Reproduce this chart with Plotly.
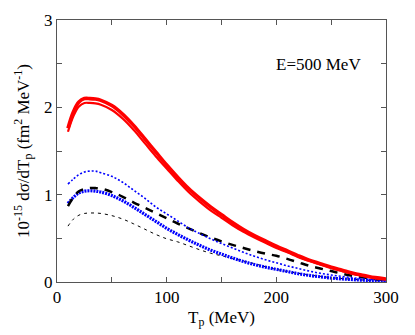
import plotly.graph_objects as go

# proton kinetic energy grid (MeV)
t_p = [10, 15, 20, 25, 30, 35, 40, 50, 60, 70, 80, 90, 100, 110, 120, 130, 140, 150,
       160, 170, 180, 190, 200, 210, 220, 230, 240, 250, 260, 270, 280, 290, 300]

red_upper = [1.76, 1.95, 2.06, 2.10, 2.10, 2.095, 2.08, 2.02, 1.92, 1.79, 1.64, 1.49, 1.34, 1.20,
             1.07, 0.96, 0.86, 0.77, 0.68, 0.60, 0.53, 0.47, 0.41, 0.355, 0.30, 0.25, 0.21,
             0.17, 0.135, 0.10, 0.075, 0.05, 0.035]
red_lower = [1.72, 1.90, 2.01, 2.05, 2.05, 2.045, 2.03, 1.97, 1.87, 1.74, 1.59, 1.44, 1.30, 1.16,
             1.03, 0.92, 0.82, 0.735, 0.65, 0.575, 0.51, 0.45, 0.39, 0.34, 0.285, 0.24, 0.20,
             0.16, 0.125, 0.092, 0.067, 0.046, 0.03]
blue_thin = [1.12, 1.18, 1.23, 1.26, 1.27, 1.27, 1.25, 1.21, 1.14, 1.05, 0.96, 0.86, 0.78, 0.70,
             0.62, 0.555, 0.495, 0.44, 0.39, 0.34, 0.295, 0.255, 0.22, 0.185, 0.155, 0.125, 0.10,
             0.08, 0.063, 0.048, 0.035, 0.025, 0.018]
blue_thick = [0.90, 0.97, 1.02, 1.04, 1.045, 1.04, 1.03, 0.99, 0.93, 0.855, 0.775, 0.695, 0.615,
              0.545, 0.48, 0.42, 0.365, 0.32, 0.275, 0.235, 0.20, 0.17, 0.145, 0.12, 0.095, 0.075,
              0.06, 0.045, 0.035, 0.027, 0.02, 0.015, 0.012]
black_thick = [0.87, 0.97, 1.04, 1.065, 1.075, 1.075, 1.07, 1.03, 0.975, 0.91, 0.85, 0.79, 0.73,
               0.67, 0.615, 0.56, 0.51, 0.465, 0.425, 0.39, 0.355, 0.325, 0.30, 0.265, 0.225,
               0.185, 0.155, 0.125, 0.095, 0.07, 0.05, 0.035, 0.02]
black_thin = [0.64, 0.72, 0.765, 0.785, 0.79, 0.79, 0.785, 0.76, 0.72, 0.665, 0.605, 0.545, 0.495,
              0.46, 0.415, 0.37, 0.33, 0.30, 0.27, 0.24, 0.21, 0.175, 0.145, 0.12, 0.10, 0.08,
              0.065, 0.05, 0.04, 0.03, 0.022, 0.016, 0.012]

x_ticks = [0, 50, 100, 150, 200, 250, 300]
x_labels = ['0', '', '100', '', '200', '', '300']
y_ticks = [0, 0.5, 1, 1.5, 2, 2.5, 3]
y_labels = ['0', '', '1', '', '2', '', '3']

FONT = 'Liberation Serif, Times New Roman, serif'

fig = go.Figure()

def add(y, color, width, dash):
    fig.add_trace(go.Scatter(x=t_p, y=y, mode='lines', showlegend=False,
                             line=dict(color=color, width=width, dash=dash, shape='spline')))

add(black_thin, '#000000', 1, '3px,4px')
add(blue_thick, '#0000ff', 3.2, '2px,1px')
add(black_thick, '#000000', 2.5, '8px,7px')
add(blue_thin, '#0000ff', 1.6, '2px,2px')
add(red_lower, '#ff0000', 2.2, 'solid')
add(red_upper, '#ff0000', 3.6, 'solid')

fig.add_annotation(x=0.93, y=0.83, xref='paper', yref='paper', xanchor='right', yanchor='middle',
                   text='E=500 MeV', showarrow=False, font=dict(family=FONT, size=17, color='#000'))

axis_common = dict(showgrid=False, zeroline=False, showline=True, linecolor='#555', linewidth=1,
                   mirror='allticks', ticks='inside', ticklen=5, tickcolor='#555', automargin=False,
                   tickfont=dict(family=FONT, size=17, color='#000'))

fig.update_xaxes(range=[0, 300], tickvals=x_ticks, ticktext=x_labels,
                 title=dict(text='T<sub>p</sub> (MeV)', font=dict(family=FONT, size=17, color='#000'),
                            standoff=4), **axis_common)
fig.update_yaxes(range=[0, 3], tickvals=y_ticks, ticktext=y_labels,
                 title=dict(text='10<sup>-15</sup> dσ/dT<sub>p</sub> (fm<sup>2</sup> MeV<sup>-1</sup>)',
                            font=dict(family=FONT, size=17, color='#000'), standoff=10),
                 **axis_common)

# the page body adds an 8px offset, so the figure is 8px smaller and shifted
fig.update_layout(width=407, height=327, margin=dict(l=49, r=29, t=12, b=53),
                  plot_bgcolor='white', paper_bgcolor='white')

fig.write_html("out.html")
